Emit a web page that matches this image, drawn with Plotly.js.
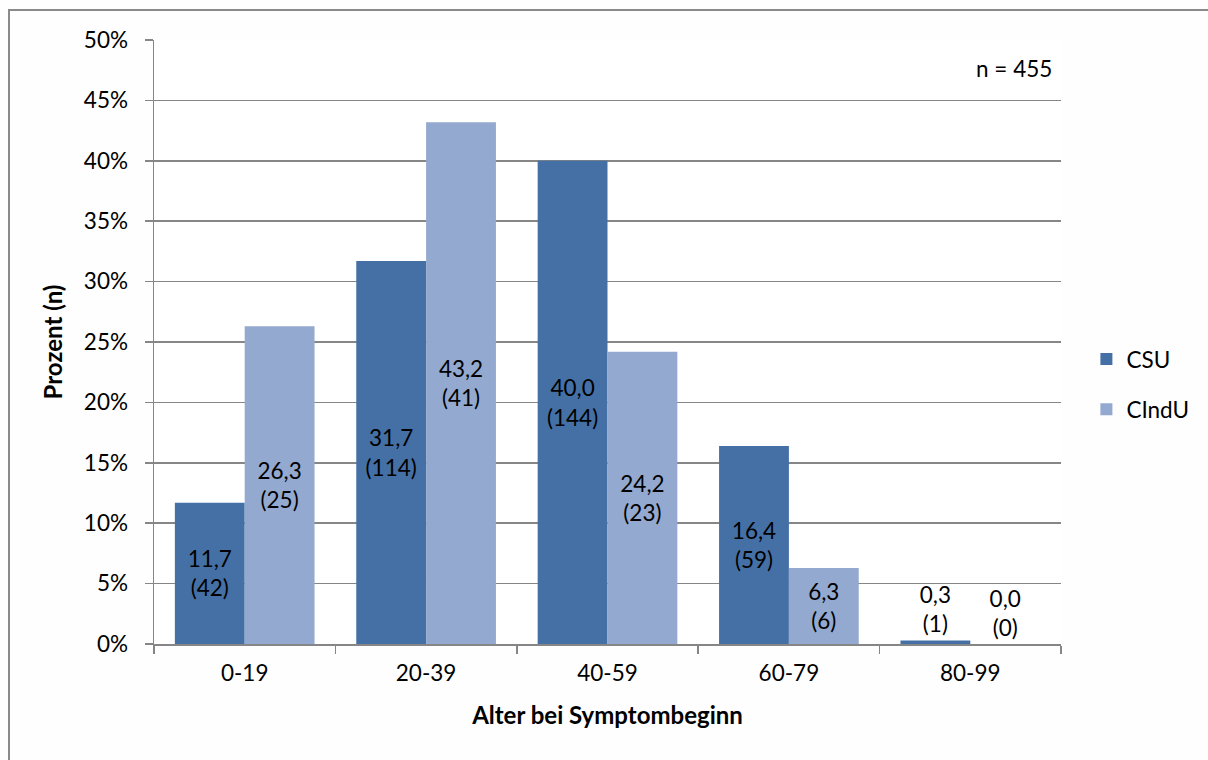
<!DOCTYPE html>
<html>
<head>
<meta charset="utf-8">
<script src="https://cdn.plot.ly/plotly-3.0.1.min.js"></script>
<style>
  html, body { margin: 0; padding: 0; background: #fdfefd; }
  #wrap { position: relative; width: 1208px; height: 760px; overflow: hidden; }
  #frame { position: absolute; left: 8px; top: 9px; width: 1300px; height: 800px;
           border-left: 2px solid #8a8a8a; border-top: 2px solid #8a8a8a; pointer-events: none; }
  #chart { position: absolute; left: 0; top: 0; width: 1208px; height: 760px; }
</style>
</head>
<body>
<div id="wrap">
  <div id="chart"></div>
  <div id="frame"></div>
</div>
<script>
const categories = ["0-19", "20-39", "40-59", "60-79", "80-99"];
const csuPercent = [11.7, 31.7, 40.0, 16.4, 0.3];
const csuCount = [42, 114, 144, 59, 1];
const cinduPercent = [26.3, 43.2, 24.2, 6.3, 0.0];
const cinduCount = [25, 41, 23, 6, 0];
const yTicks = [0, 5, 10, 15, 20, 25, 30, 35, 40, 45, 50];
const seriesNames = ["CSU", "CIndU"];
const annotationText = "n = 455";

const FONT = "Lato, 'Open Sans', sans-serif";
const FS = 22.5;
const fmt = (p, n) => p.toFixed(1).replace(".", ",") + "<br>(" + n + ")";
const pos = vals => vals.map(v => v < 2 ? "outside" : "inside");

const traces = [
  {
    type: "bar", name: seriesNames[0], x: categories, y: csuPercent,
    text: csuPercent.map((p, i) => fmt(p, csuCount[i])),
    textposition: pos(csuPercent), insidetextanchor: "middle",
    textangle: 0, constraintext: "none", cliponaxis: false,
    textfont: { family: FONT, size: FS, color: "#000" },
    marker: { color: "#4570a6" }, legendgroup: "a", hoverinfo: "none"
  },
  {
    type: "bar", name: seriesNames[1], x: categories, y: cinduPercent,
    text: cinduPercent.map((p, i) => fmt(p, cinduCount[i])),
    textposition: pos(cinduPercent), insidetextanchor: "middle",
    textangle: 0, constraintext: "none", cliponaxis: false,
    textfont: { family: FONT, size: FS, color: "#000" },
    marker: { color: "#93a9cf" }, legendgroup: "b", hoverinfo: "none"
  }
];

const layout = {
  width: 1208, height: 760,
  margin: { l: 154, r: 147, t: 40, b: 116 },
  paper_bgcolor: "#fdfefd", plot_bgcolor: "#ffffff",
  font: { family: FONT, size: FS, color: "#000" },
  barmode: "group", bargap: 0.23, bargroupgap: 0,
  showlegend: true,
  legend: { x: 1.028, xanchor: "left", y: 0.43, yanchor: "middle",
            font: { family: FONT, size: FS, color: "#000" },
            traceorder: "grouped", tracegroupgap: 18, bgcolor: "rgba(0,0,0,0)" },
  xaxis: {
    type: "category", tickson: "boundaries", ticks: "outside", ticklen: 8,
    tickcolor: "#868686", tickwidth: 1.5,
    showline: true, linecolor: "#868686", linewidth: 1.5,
    showgrid: false, zeroline: false,
    tickfont: { family: FONT, size: FS }, ticklabelstandoff: 8,
    title: { text: "<b>Alter bei Symptombeginn</b>", font: { family: FONT, size: 24 }, standoff: 22 }
  },
  yaxis: {
    range: [0, 50], tickmode: "array", tickvals: yTicks,
    ticktext: yTicks.map(v => v + "%"),
    ticks: "outside", ticklen: 8, tickcolor: "#868686", tickwidth: 1.5,
    showline: true, linecolor: "#868686", linewidth: 1.5,
    showgrid: true, gridcolor: "#868686", gridwidth: 1.5, zeroline: false,
    tickfont: { family: FONT, size: FS }, ticklabelstandoff: 12,
    title: { text: "<b>Prozent (n)</b>", font: { family: FONT, size: 24 }, standoff: 14 }
  },
  annotations: [{
    xref: "paper", yref: "paper", x: 0.992, y: 0.952, xanchor: "right", yanchor: "middle",
    text: annotationText, showarrow: false, font: { family: FONT, size: FS, color: "#000" }
  }]
};

Plotly.newPlot("chart", traces, layout, { displayModeBar: false, staticPlot: true });
</script>
</body>
</html>
